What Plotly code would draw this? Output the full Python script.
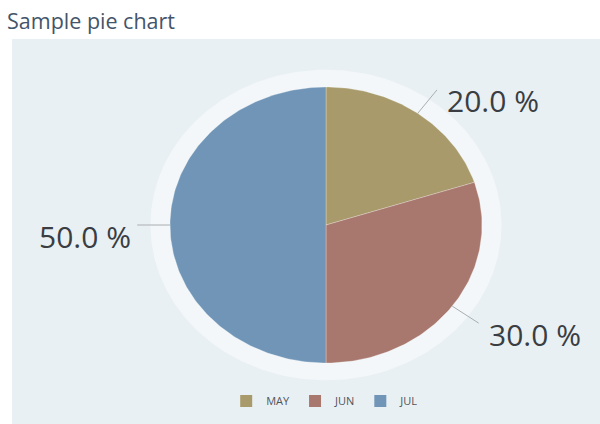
import numpy as np
import plotly.graph_objects as go

# ---- data ----
categories = ["MAY", "JUN", "JUL"]
values = [20, 30, 50]
colors = ["#a89a6a", "#a8776d", "#7095b7"]
title_text = "Sample pie chart"

# ---- geometry helpers (unit ellipse; aspect set by axes ranges) ----
W, H = 600, 424
cx_px, cy_px, rx_px, ry_px = 326, 225, 156, 138
xr = [(0 - cx_px) / rx_px, (W - cx_px) / rx_px]
yr = [(cy_px - H) / ry_px, (cy_px - 0) / ry_px]

total = float(sum(values))
fracs = [v / total for v in values]

fig = go.Figure()

# halo
t = np.linspace(0, 2 * np.pi, 361)
halo_r = 1.125
fig.add_trace(go.Scatter(x=halo_r * np.sin(t), y=halo_r * np.cos(t), mode="lines",
                         fill="toself", fillcolor="#f3f7f9", line=dict(width=0),
                         hoverinfo="skip", showlegend=False))

start = 0.0
mids = []
for cat, f, col in zip(categories, fracs, colors):
    a0, a1 = start * 2 * np.pi, (start + f) * 2 * np.pi
    ang = np.linspace(a0, a1, max(int(f * 360), 2) + 1)
    xs = np.concatenate([[0], np.sin(ang), [0]])
    ys = np.concatenate([[0], np.cos(ang), [0]])
    fig.add_trace(go.Scatter(x=xs, y=ys, mode="lines", fill="toself", fillcolor=col,
                             line=dict(width=0.6, color="rgba(255,255,255,0.45)"),
                             name=cat, hoverinfo="name", showlegend=False))
    mids.append((start + f / 2) * 2 * np.pi)
    start += f

# legend entries
for cat, col in zip(categories, colors):
    fig.add_trace(go.Scatter(x=[None], y=[None], mode="markers", name=cat,
                             marker=dict(symbol="square", size=12, color=col)))

# leader lines + labels
for v, m in zip(values, mids):
    x0, y0 = np.sin(m), np.cos(m)
    x1, y1 = 1.21 * np.sin(m), 1.21 * np.cos(m)
    fig.add_trace(go.Scatter(x=[x0, x1], y=[y0, y1], mode="lines",
                             line=dict(color="#a9aeb2", width=1),
                             hoverinfo="skip", showlegend=False))
    right = x1 >= 0
    fig.add_annotation(x=x1, y=y1, xref="x", yref="y",
                       text=f"{v / total * 100:.1f} %", showarrow=False,
                       xanchor="left" if right else "right", yanchor="middle",
                       xshift=8 if right else -4, yshift=-11,
                       font=dict(family="Open Sans", size=30, color="#3a3d41"))

fig.add_shape(type="rect", xref="paper", yref="paper", x0=12 / W, x1=1, y0=0,
              y1=(H - 39) / H, fillcolor="#e9f0f4", line=dict(width=0), layer="below")

fig.update_layout(
    width=W, height=H, margin=dict(l=0, r=0, t=0, b=0),
    paper_bgcolor="white", plot_bgcolor="rgba(0,0,0,0)",
    title=dict(text=title_text, x=7 / W, xanchor="left", xref="paper",
               y=1 - 21 / H, yanchor="middle", yref="container",
               font=dict(family="Open Sans", size=21.5, color="#44546a")),
    xaxis=dict(range=xr, visible=False, fixedrange=True),
    yaxis=dict(range=yr, visible=False, fixedrange=True),
    legend=dict(orientation="h", x=0.542, xanchor="center", y=(H - 401) / H,
                yanchor="middle", bgcolor="rgba(0,0,0,0)",
                font=dict(family="Open Sans", size=11, color="#50555a")),
    showlegend=True,
)

fig.write_html("out.html", config={"displayModeBar": False},
               post_script="document.body.style.margin='0';")
